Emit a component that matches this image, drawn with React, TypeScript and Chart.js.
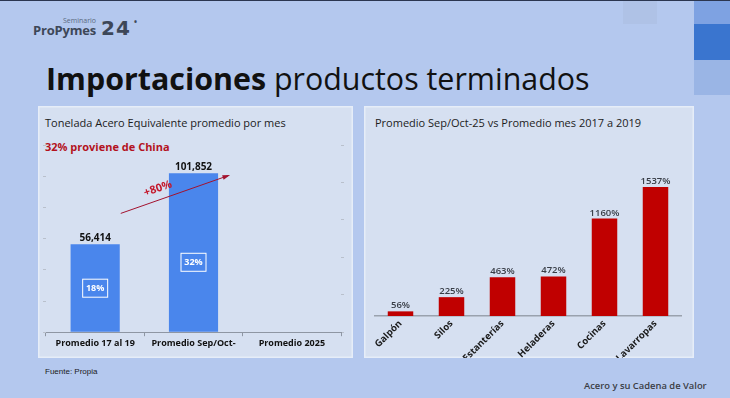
import React, { useEffect, useRef } from "react";
import { Chart, registerables } from "chart.js";
Chart.register(...registerables);

const leftCategories = ["Promedio 17 al 19", "Promedio Sep/Oct-", "Promedio 2025"];
const leftValues: (number | null)[] = [56414, 101852, null];
const chinaShare: (number | null)[] = [18, 32, null];
const growthLabel = "+80%";

const rightCategories = ["Galpón", "Silos", "Estanterías", "Heladeras", "Cocinas", "Lavarropas"];
const rightValues = [56, 225, 463, 472, 1160, 1537];

const FONT = "'Open Sans', 'Noto Sans', sans-serif";

const leftOverlay = {
  id: "leftOverlay",
  afterDatasetsDraw(chart: any) {
    const ctx = chart.ctx;
    const meta = chart.getDatasetMeta(0);
    const ys = chart.scales.y;
    ctx.save();
    meta.data.forEach((bar: any, i: number) => {
      const v = leftValues[i];
      if (v == null) return;
      ctx.font = `bold 10px ${FONT}`;
      ctx.fillStyle = "#111";
      ctx.textAlign = "center";
      ctx.textBaseline = "bottom";
      ctx.fillText(v.toLocaleString("en-US"), bar.x, bar.y - 1);
      const s = chinaShare[i];
      if (s != null) {
        const cy = ys.getPixelForValue(v * (i === 0 ? 0.5 : 0.44));
        ctx.strokeStyle = "#ffffff";
        ctx.lineWidth = 1;
        ctx.strokeRect(bar.x - 12.5, cy - 9, 25, 18);
        ctx.font = `bold 9px ${FONT}`;
        ctx.fillStyle = "#ffffff";
        ctx.textBaseline = "middle";
        ctx.fillText(s + "%", bar.x, cy + 0.5);
      }
    });
    const b0 = meta.data[0];
    const b1 = meta.data[1];
    const x0 = b0.x + b0.width / 2 + 1;
    const y0 = ys.getPixelForValue((leftValues[0] as number) * 1.35);
    const x1 = b1.x + b1.width / 2 + 10;
    const y1 = ys.getPixelForValue((leftValues[1] as number) * 0.985);
    ctx.strokeStyle = "#a3122e";
    ctx.fillStyle = "#a3122e";
    ctx.lineWidth = 1;
    ctx.beginPath();
    ctx.moveTo(x0, y0);
    ctx.lineTo(x1, y1);
    ctx.stroke();
    const ang = Math.atan2(y1 - y0, x1 - x0);
    ctx.beginPath();
    ctx.moveTo(x1 + 2, y1 - 0.7);
    ctx.lineTo(x1 - 6 * Math.cos(ang - 0.4), y1 - 6 * Math.sin(ang - 0.4));
    ctx.lineTo(x1 - 6 * Math.cos(ang + 0.4), y1 - 6 * Math.sin(ang + 0.4));
    ctx.closePath();
    ctx.fill();
    const t = 0.38;
    const mx = x0 + (x1 - x0) * t + 11 * Math.sin(ang);
    const my = y0 + (y1 - y0) * t - 11 * Math.cos(ang);
    ctx.translate(mx, my);
    ctx.rotate(ang);
    ctx.font = `bold 11px ${FONT}`;
    ctx.fillStyle = "#c4182c";
    ctx.textAlign = "center";
    ctx.textBaseline = "middle";
    ctx.fillText(growthLabel, 0, 0);
    ctx.restore();
  },
};

const rightOverlay = {
  id: "rightOverlay",
  afterDatasetsDraw(chart: any) {
    const ctx = chart.ctx;
    const meta = chart.getDatasetMeta(0);
    ctx.save();
    ctx.font = `600 9.5px ${FONT}`;
    ctx.fillStyle = "#383d46";
    ctx.textAlign = "center";
    ctx.textBaseline = "bottom";
    meta.data.forEach((bar: any, i: number) => {
      ctx.fillText(rightValues[i] + "%", bar.x, bar.y - 1);
    });
    ctx.restore();
  },
};

function LeftChart() {
  const ref = useRef<HTMLCanvasElement>(null);
  useEffect(() => {
    const chart = new Chart(ref.current as HTMLCanvasElement, {
      type: "bar",
      data: {
        labels: leftCategories,
        datasets: [
          {
            data: leftValues as any,
            backgroundColor: "#4a86ec",
            barPercentage: 0.5,
            categoryPercentage: 1,
            yAxisID: "y",
          },
        ],
      },
      options: {
        animation: false,
        responsive: false,
        maintainAspectRatio: false,
        layout: { padding: { left: 5, right: 9, top: 15, bottom: 7 } },
        plugins: { legend: { display: false }, tooltip: { enabled: false } },
        scales: {
          x: {
            grid: { display: true, drawOnChartArea: false, drawTicks: true, tickLength: 4, color: "#8e96a3", offset: true },
            border: { display: true, color: "#8e96a3" },
            ticks: { font: { family: FONT, size: 9, weight: "bold" }, color: "#111", padding: 2, maxRotation: 0, autoSkip: false },
          },
          y: {
            min: 0,
            max: 120000,
            ticks: { display: false, stepSize: 20000 },
            grid: { display: true, drawOnChartArea: false, drawTicks: true, tickLength: 3, color: "#b9c0cc" },
            border: { display: false },
          },
          y2: {
            position: "right",
            min: 0,
            max: 100,
            ticks: { display: false, stepSize: 20 },
            grid: { display: true, drawOnChartArea: false, drawTicks: true, tickLength: 3, color: "#b9c0cc" },
            border: { display: false },
          },
        },
      } as any,
      plugins: [leftOverlay],
    });
    return () => chart.destroy();
  }, []);
  return <canvas ref={ref} width={315} height={228} style={{ position: "absolute", left: 0, top: 24, width: 315, height: 228 }} />;
}

function RightChart() {
  const ref = useRef<HTMLCanvasElement>(null);
  useEffect(() => {
    const chart = new Chart(ref.current as HTMLCanvasElement, {
      type: "bar",
      data: {
        labels: rightCategories,
        datasets: [
          {
            data: rightValues,
            backgroundColor: "#c00000",
            barPercentage: 0.5,
            categoryPercentage: 1,
          },
        ],
      },
      options: {
        animation: false,
        responsive: false,
        maintainAspectRatio: false,
        layout: { padding: { left: 11, right: 12, top: 18, bottom: 28 } },
        plugins: { legend: { display: false }, tooltip: { enabled: false } },
        scales: {
          x: {
            grid: { display: false },
            border: { display: true, color: "#9aa2ae", width: 1.5 },
            ticks: { font: { family: FONT, size: 9.5, weight: "bold" }, color: "#1a1a1a", padding: -6, minRotation: 45, maxRotation: 45, autoSkip: false },
          },
          y: { display: false, min: 0, max: 2000 },
        },
      } as any,
      plugins: [rightOverlay],
    });
    return () => chart.destroy();
  }, []);
  return <canvas ref={ref} width={329} height={256} style={{ position: "absolute", left: 0, top: 24, width: 329, height: 256 }} />;
}

const abs = (s: React.CSSProperties): React.CSSProperties => ({ position: "absolute", whiteSpace: "nowrap", ...s });

export default function App() {
  return (
    <div style={{ position: "fixed", left: 0, top: 0, width: 730, height: 398, overflow: "hidden", background: "#b4c8ee", fontFamily: FONT }}>
      <div style={abs({ left: 0, top: 0, width: 730, height: 1, background: "#2b3650" })} />
      <div style={abs({ left: 623, top: 1, width: 34, height: 23, background: "#afc2e6" })} />
      <div style={abs({ left: 694, top: 1, width: 36, height: 23, background: "#7ea2e2" })} />
      <div style={abs({ left: 694, top: 24, width: 36, height: 36, background: "#3a75cf" })} />
      <div style={abs({ left: 694, top: 60, width: 36, height: 35, background: "#9ab5e5" })} />

      <div style={abs({ left: 63, top: 16, fontSize: 7, color: "#5b6a80", lineHeight: "9px" })}>Seminario</div>
      <div style={abs({ left: 33, top: 22, fontSize: 13, fontWeight: 700, color: "#3d4758", lineHeight: "16px", letterSpacing: -0.2 })}>ProPymes</div>
      <div style={abs({ left: 101, top: 18, fontSize: 20, fontWeight: 700, color: "#3d4758", fontFamily: "'DejaVu Sans', sans-serif", lineHeight: "20px", letterSpacing: 1 })}>24</div>
      <div style={abs({ left: 134, top: 18, fontSize: 8, fontWeight: 700, color: "#3d4758", lineHeight: "8px" })}>•</div>

      <div style={abs({ left: 46, top: 64, fontSize: 30.4, color: "#111", lineHeight: "30px" })}>
        <span style={{ fontWeight: 700 }}>Importaciones</span> productos terminados
      </div>

      <div style={abs({ left: 38, top: 106, width: 315, height: 252, background: "#d6e0f1", boxShadow: "inset 0 0 0 1.5px #e6edf8", overflow: "hidden" })}>
        <div style={abs({ left: 7, top: 9, fontSize: 11, color: "#1c1c1c", lineHeight: "15px" })}>Tonelada Acero Equivalente promedio por mes</div>
        <div style={abs({ left: 7, top: 33, fontSize: 11, fontWeight: 700, color: "#b3121d", lineHeight: "15px" })}>32% proviene de China</div>
        <LeftChart />
      </div>

      <div style={abs({ left: 364, top: 106, width: 330, height: 252, background: "#d6e0f1", boxShadow: "inset 0 0 0 1.5px #e6edf8", overflow: "hidden" })}>
        <div style={abs({ left: 11, top: 9, fontSize: 11, color: "#1c1c1c", lineHeight: "15px" })}>Promedio Sep/Oct-25 vs Promedio mes 2017 a 2019</div>
        <RightChart />
      </div>

      <div style={abs({ left: 45, top: 367, fontSize: 8, color: "#1a1a1a", fontFamily: "'Liberation Sans', Arial, sans-serif", lineHeight: "10px" })}>Fuente: Propia</div>
      <div style={abs({ left: 584, top: 379, fontSize: 9.4, fontWeight: 600, color: "#3a3d44", lineHeight: "13px" })}>Acero y su Cadena de Valor</div>
    </div>
  );
}
